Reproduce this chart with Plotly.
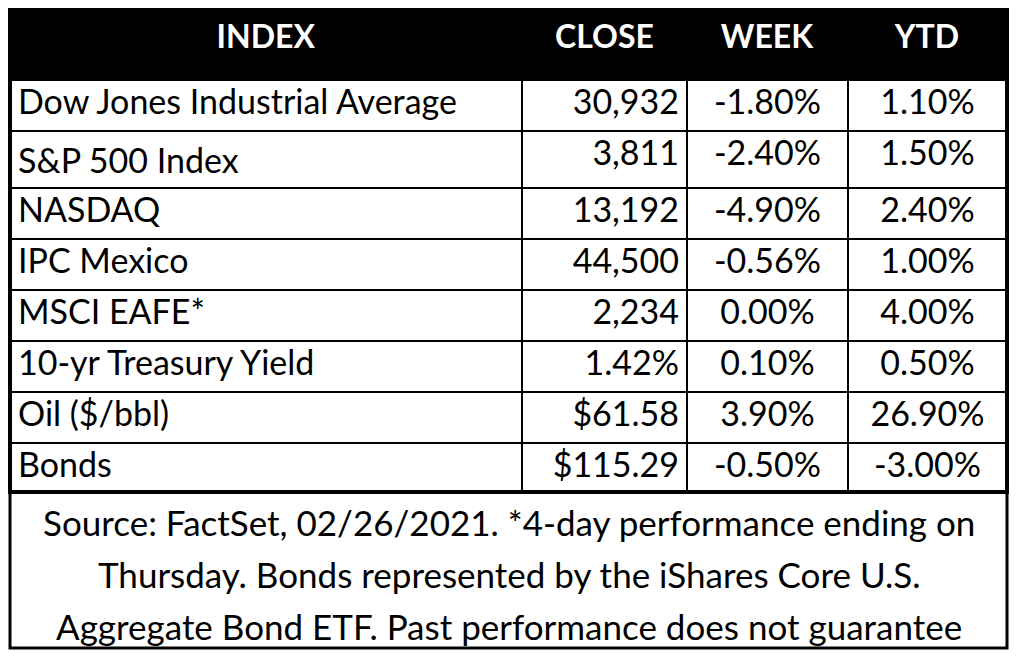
import plotly.graph_objects as go

# dados da tabela
indices = ['Dow Jones Industrial Average', 'S&amp;P 500 Index', 'NASDAQ', 'IPC Mexico',
           'MSCI EAFE*', '10-yr Treasury Yield', 'Oil ($/bbl)', 'Bonds']
close = ['30,932', '3,811', '13,192', '44,500', '2,234', '1.42%', '$61.58', '$115.29']
week = ['-1.80%', '-2.40%', '-4.90%', '-0.56%', '0.00%', '0.10%', '3.90%', '-0.50%']
ytd = ['1.10%', '1.50%', '2.40%', '1.00%', '4.00%', '0.50%', '26.90%', '-3.00%']
cabecalho = ['INDEX', 'CLOSE', 'WEEK', 'YTD']
nota = ['Source: FactSet, 02/26/2021. *4-day performance ending on',
        'Thursday. Bonds represented by the iShares Core U.S.',
        'Aggregate Bond ETF. Past performance does not guarantee']

# a pagina tem margem de 8px no body, entao tudo fica deslocado 8px
W, H = 1025, 660
x0, x1 = 2, 999
topo, fim_tab, fim_nota = 0, 484, 640
fonte = 'Lato, Carlito, Calibri, sans-serif'

fig = go.Figure(go.Table(
    domain=dict(x=[x0 / W, x1 / W], y=[1 - (fim_tab + 6) / H, 1 - topo / H]),
    columnwidth=[512, 165, 161, 159],
    header=dict(values=['<b>%s</b>' % c for c in cabecalho],
                fill_color='black', line=dict(color='black', width=2),
                font=dict(color='white', size=32, family=fonte),
                align='center', height=72),
    cells=dict(values=[indices, close, week, ytd],
               fill_color='white', line=dict(color='black', width=2),
               font=dict(color='black', size=34, family=fonte),
               align=['left', 'right', 'center', 'center'], height=51)
))

# nota de rodape: caixa + tres linhas
fig.add_shape(type='rect', xref='paper', yref='paper',
              x0=x0 / W, x1=x1 / W, y0=1 - fim_nota / H, y1=1 - fim_tab / H,
              line=dict(color='black', width=3), fillcolor='white')
for i, linha in enumerate(nota):
    fig.add_annotation(text=linha, xref='paper', yref='paper',
                       x=(x0 + x1) / 2 / W, y=1 - (514 + 52 * i) / H,
                       xanchor='center', yanchor='middle', showarrow=False,
                       font=dict(family=fonte, size=35, color='black'))

fig.add_shape(type='rect', xref='paper', yref='paper',
              x0=x0 / W, x1=x1 / W, y0=1 - fim_tab / H, y1=1 - topo / H,
              line=dict(color='black', width=4))

fig.update_layout(width=W, height=H, margin=dict(l=0, r=0, t=0, b=0),
                  paper_bgcolor='white', plot_bgcolor='white')
fig.write_html('out.html')
